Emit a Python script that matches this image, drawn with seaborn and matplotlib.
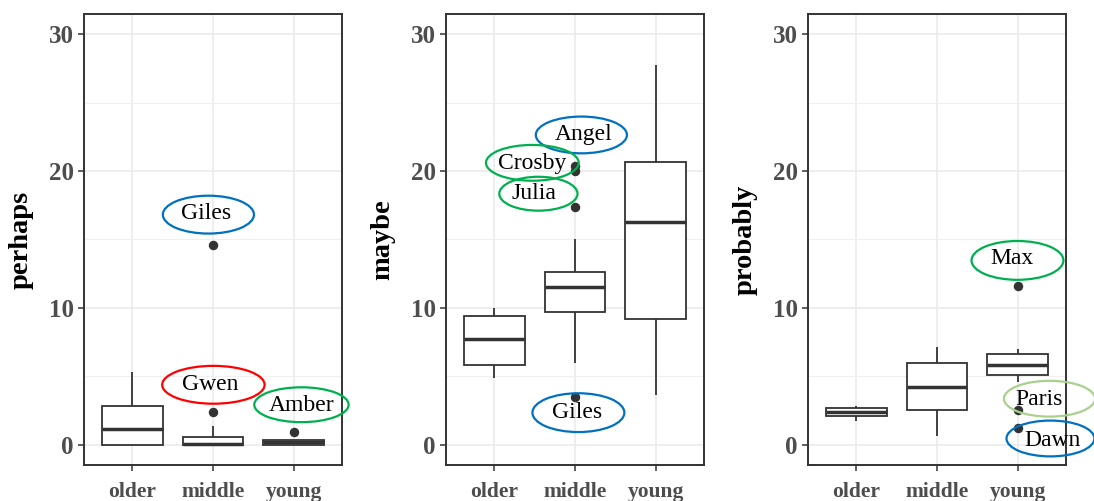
import pandas as pd
import seaborn as sns
import matplotlib.pyplot as plt
from matplotlib.patches import Ellipse
from matplotlib.ticker import MultipleLocator

# ---- data -------------------------------------------------------------
groups = ["older", "middle", "young"]
measures = ["perhaps", "maybe", "probably"]

perhaps_older = [0, 0, 0, 0.6, 1.1, 2.0, 2.8, 4.0, 5.3]
perhaps_middle = [0, 0, 0, 0, 0, 0.05, 0.07, 0.2, 0.4, 0.55, 1.33, 2.35, 14.6]
perhaps_young = [0, 0, 0, 0, 0.15, 0.2, 0.3, 0.3, 0.92]

maybe_older = [4.9, 5.3, 5.8, 6.9, 7.7, 8.6, 9.4, 9.8, 10.0]
maybe_middle = [3.5, 6.0, 8.0, 9.2, 9.7, 10.3, 10.8, 11.2, 11.5, 11.8,
                12.1, 12.4, 12.6, 15.0, 17.4, 20.0, 20.4]
maybe_young = [3.6, 6.5, 9.2, 13.0, 16.3, 18.5, 20.7, 24.0, 27.8]

probably_older = [1.7, 2.0, 2.1, 2.3, 2.4, 2.5, 2.65, 2.7, 2.8]
probably_middle = [0.6, 1.8, 2.5, 3.3, 4.2, 5.1, 5.95, 6.6, 7.1]
probably_young = [1.2, 2.5, 4.6, 5.05, 5.3, 5.5, 5.8, 6.0, 6.3, 6.6, 6.8, 7.0, 11.6]

values = {
    "perhaps": [perhaps_older, perhaps_middle, perhaps_young],
    "maybe": [maybe_older, maybe_middle, maybe_young],
    "probably": [probably_older, probably_middle, probably_young],
}

rows = []
for m in measures:
    for g, vals in zip(groups, values[m]):
        rows += [{"measure": m, "group": g, "value": v} for v in vals]
df = pd.DataFrame(rows)

# names of the outlying speakers
outlier_names = {
    "perhaps": ["Giles", "Gwen", "Amber"],
    "maybe": ["Angel", "Crosby", "Julia", "Giles"],
    "probably": ["Max", "Paris", "Dawn"],
}

# ---- callout layout: ellipse centre/size and text position (data units)
BLUE, RED, GREEN, LIGHT_GREEN = "#0070C0", "#FF0000", "#00B050", "#A9D18E"
callouts = {
    "perhaps": [
        (BLUE, 0.943, 16.82, 1.13, 2.77, 0.918, 16.9),
        (RED, 1.005, 4.37, 1.27, 2.77, 0.968, 4.37),
        (GREEN, 2.097, 2.91, 1.17, 2.55, 2.097, 2.84),
    ],
    "maybe": [
        (BLUE, 1.079, 22.65, 1.13, 2.69, 1.104, 22.65),
        (GREEN, 0.471, 20.61, 1.15, 2.62, 0.471, 20.54),
        (GREEN, 0.546, 18.35, 0.97, 2.48, 0.496, 18.35),
        (BLUE, 1.042, 2.33, 1.14, 2.84, 1.03, 2.33),
    ],
    "probably": [
        (GREEN, 1.998, 13.47, 1.14, 2.84, 1.935, 13.62),
        (LIGHT_GREEN, 2.395, 3.35, 1.13, 2.62, 2.27, 3.28),
        (BLUE, 2.407, 0.44, 1.09, 2.62, 2.432, 0.29),
    ],
}

# ---- figure -----------------------------------------------------------
sns.set_theme(style="whitegrid")
plt.rcParams["font.family"] = ["Liberation Serif", "DejaVu Serif"]

W, H = 1094, 501
fig = plt.figure(figsize=(W / 100, H / 100), dpi=100)
fig.patch.set_facecolor("white")
lefts = [84, 446, 808]
DARK = "#333333"

for i, m in enumerate(measures):
    ax = fig.add_axes([lefts[i] / W, 36 / H, 258 / W, 451 / H])
    sub = df[df["measure"] == m]
    sns.boxplot(
        data=sub, x="group", y="value", order=groups, ax=ax,
        width=0.75, color="white", linecolor=DARK, linewidth=1.3,
        showcaps=False, fliersize=5.8,
        medianprops=dict(linewidth=2.5, color=DARK),
        flierprops=dict(marker="o", markerfacecolor=DARK,
                        markeredgecolor=DARK),
    )
    ax.set_xlim(-0.6, 2.6)
    ax.set_ylim(-1.5, 31.5)
    ax.yaxis.set_major_locator(MultipleLocator(10))
    ax.yaxis.set_minor_locator(MultipleLocator(5))
    ax.set_facecolor("white")
    ax.grid(which="major", color="#ebebeb", linewidth=1.2)
    ax.grid(which="minor", axis="y", color="#f0f0f0", linewidth=0.9)
    ax.set_axisbelow(True)
    for sp in ax.spines.values():
        sp.set_visible(True)
        sp.set_color(DARK)
        sp.set_linewidth(1.4)
    ax.tick_params(axis="both", which="major", bottom=True, left=True,
                   length=4.5, width=1.1, color=DARK, direction="out",
                   labelcolor="#4d4d4d")
    ax.tick_params(axis="x", labelsize=15.5, pad=8)
    ax.tick_params(axis="y", labelsize=18, pad=3)
    ax.tick_params(axis="y", which="minor", left=False)
    for lab in ax.get_xticklabels() + ax.get_yticklabels():
        lab.set_fontweight("bold")
    ax.set_xlabel("")
    ax.set_ylabel(m, fontsize=20.5, fontweight="bold", color="black")
    ax.yaxis.label.set_va("center")
    ax.yaxis.set_label_coords(-0.245, 0.5)

    for name, (col, ex, ey, ew, eh, tx, ty) in zip(outlier_names[m], callouts[m]):
        ax.add_patch(Ellipse((ex, ey), ew, eh, fill=False, edgecolor=col,
                             linewidth=1.6, clip_on=False, zorder=5))
        ax.text(tx, ty, name, ha="center", va="center", fontsize=17,
                color="black", zorder=6, clip_on=False)

fig.savefig("out.png", dpi=100, facecolor="white")
